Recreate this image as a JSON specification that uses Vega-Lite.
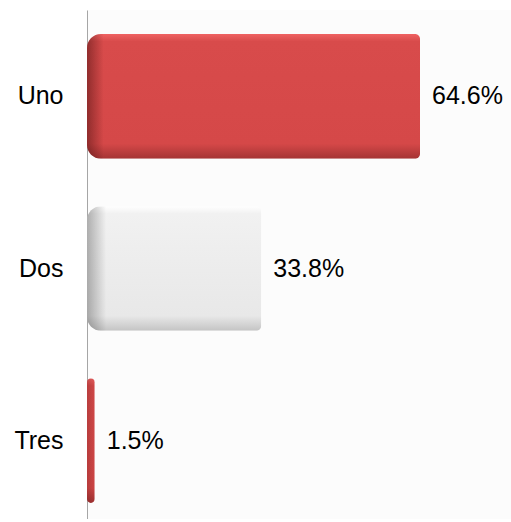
{
  "$schema": "https://vega.github.io/schema/vega-lite/v6.json",
  "autosize": "none",
  "width": 424,
  "height": 509,
  "padding": {"left": 87, "top": 10, "right": 0, "bottom": 0},
  "background": "#ffffff",
  "view": {"stroke": null, "fill": "#fcfcfc"},
  "data": {
    "values": [
      {"cat": "Uno", "pct": 64.6, "label": "64.6%"},
      {"cat": "Dos", "pct": 33.8, "label": "33.8%"},
      {"cat": "Tres", "pct": 1.5, "label": "1.5%"}
    ]
  },
  "encoding": {
    "y": {
      "field": "cat",
      "type": "nominal",
      "sort": ["Uno", "Dos", "Tres"],
      "scale": {"paddingInner": 0.276, "paddingOuter": 0.1163, "align": 0.6},
      "axis": {
        "title": null,
        "ticks": false,
        "tickSize": 0,
        "labelPadding": 24,
        "labelFont": "Liberation Sans",
        "labelFontSize": 25,
        "labelColor": "#000000",
        "domainColor": "#a6a6a6",
        "domainWidth": 1
      }
    },
    "x": {
      "field": "pct",
      "type": "quantitative",
      "scale": {"domain": [0, 82.25], "nice": false},
      "axis": null
    }
  },
  "layer": [
    {
      "mark": {
        "type": "bar",
        "cornerRadiusTopLeft": 14,
        "cornerRadiusBottomLeft": 14,
        "cornerRadiusTopRight": 5,
        "cornerRadiusBottomRight": 5
      },
      "encoding": {
        "color": {
          "condition": {
            "test": "datum.cat === 'Dos'",
            "value": {
              "gradient": "linear", "x1": 0, "y1": 0, "x2": 0, "y2": 1,
              "stops": [
                {"offset": 0, "color": "#ffffff"},
                {"offset": 0.06, "color": "#f1f1f1"},
                {"offset": 0.88, "color": "#e8e8e8"},
                {"offset": 1, "color": "#c4c4c4"}
              ]
            }
          },
          "value": {
            "gradient": "linear", "x1": 0, "y1": 0, "x2": 0, "y2": 1,
            "stops": [
              {"offset": 0, "color": "#ef6262"},
              {"offset": 0.06, "color": "#d84b4b"},
              {"offset": 0.88, "color": "#d54848"},
              {"offset": 1, "color": "#a53434"}
            ]
          }
        }
      }
    },
    {
      "mark": {
        "type": "bar",
        "cornerRadiusTopLeft": 14,
        "cornerRadiusBottomLeft": 14,
        "cornerRadiusTopRight": 5,
        "cornerRadiusBottomRight": 5
      },
      "encoding": {
        "color": {
          "condition": [
            {
              "test": "datum.cat === 'Dos'",
              "value": {
                "gradient": "linear", "x1": 0, "y1": 0, "x2": 1, "y2": 0,
                "stops": [
                  {"offset": 0, "color": "rgba(0,0,0,0.28)"},
                  {"offset": 0.11, "color": "rgba(0,0,0,0)"},
                  {"offset": 1, "color": "rgba(0,0,0,0)"}
                ]
              }
            },
            {
              "test": "datum.cat === 'Tres'",
              "value": {
                "gradient": "linear", "x1": 0, "y1": 0, "x2": 1, "y2": 0,
                "stops": [
                  {"offset": 0, "color": "rgba(60,10,10,0.2)"},
                  {"offset": 1, "color": "rgba(60,10,10,0.05)"}
                ]
              }
            }
          ],
          "value": {
            "gradient": "linear", "x1": 0, "y1": 0, "x2": 1, "y2": 0,
            "stops": [
              {"offset": 0, "color": "rgba(60,10,10,0.45)"},
              {"offset": 0.05, "color": "rgba(60,10,10,0)"},
              {"offset": 1, "color": "rgba(60,10,10,0)"}
            ]
          }
        }
      }
    },
    {
      "mark": {
        "type": "text",
        "align": "left",
        "baseline": "middle",
        "dx": 12,
        "font": "Liberation Sans",
        "fontSize": 25,
        "color": "#000000"
      },
      "encoding": {"text": {"field": "label"}}
    }
  ]
}
